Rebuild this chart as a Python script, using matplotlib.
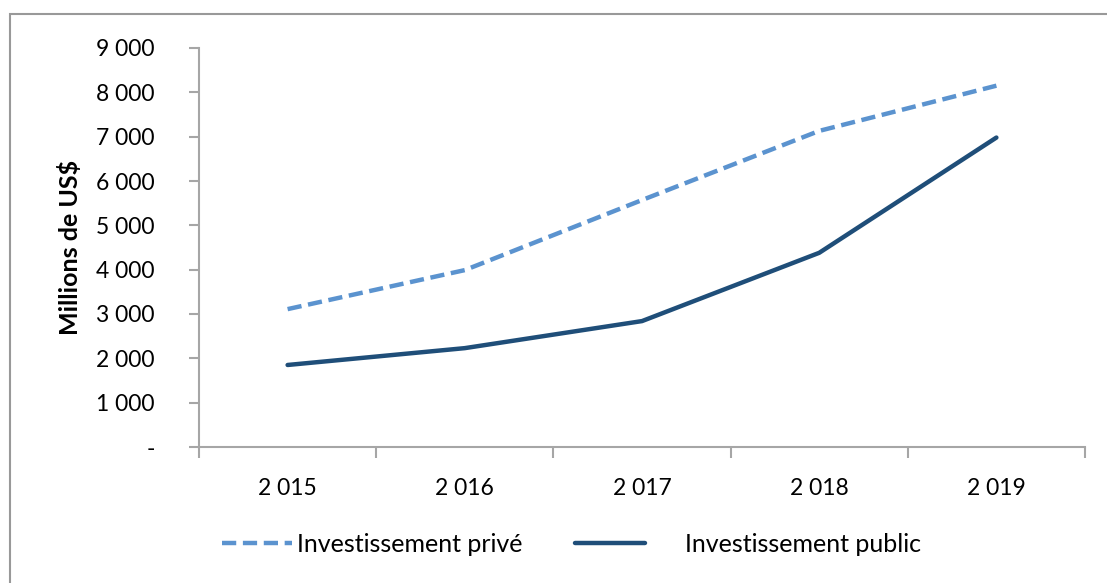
import matplotlib.pyplot as plt
from matplotlib.patches import Rectangle

years = ["2 015", "2 016", "2 017", "2 018", "2 019"]
prive = [3110, 3990, 5570, 7130, 8150]
public = [1850, 2230, 2840, 4380, 6980]
yticks = [0, 1000, 2000, 3000, 4000, 5000, 6000, 7000, 8000, 9000]

plt.rcParams['font.family'] = ['Lato', 'DejaVu Sans']
fs = 16.5
fs_leg = 18

fig = plt.figure(figsize=(11.07, 5.83), dpi=100)
ax = fig.add_axes([199 / 1107, 1 - 447 / 583, (1085 - 199) / 1107, (447 - 48) / 583])

x = list(range(len(years)))
l1, = ax.plot(x, prive, color="#5B93CF", lw=3.2, dashes=(3.2, 1.5), solid_capstyle="round",
              dash_capstyle="butt", label="Investissement privé")
l2, = ax.plot(x, public, color="#1F4E79", lw=3.2, solid_capstyle="round",
              label="Investissement public")

ax.set_xlim(-0.5, len(years) - 0.5)
ax.set_ylim(0, 9000)
ax.set_yticks(yticks)
ax.set_yticklabels(["-" if v == 0 else f"{v // 1000} 000" for v in yticks], fontsize=fs)
ax.set_xticks([i - 0.5 for i in range(len(years) + 1)])
ax.set_xticklabels([])
ax.set_xticks(x, minor=True)
ax.set_xticklabels(years, minor=True, fontsize=fs)
ax.tick_params(axis="x", which="minor", length=0, pad=22)
ax.tick_params(axis="x", which="major", length=8, color="#A6A6A6", width=1.5)
ax.tick_params(axis="y", length=7, color="#A6A6A6", width=1.5, pad=25)

for s in ["top", "right"]:
    ax.spines[s].set_visible(False)
for s in ["left", "bottom"]:
    ax.spines[s].set_color("#A6A6A6")
    ax.spines[s].set_linewidth(1.5)

ax.set_ylabel("Millions de US$", fontsize=18, fontweight="bold", labelpad=10)

leg_y = 1 - 544 / 583
fig.legend(handles=[l1], loc="center left", bbox_to_anchor=(222 / 1107, leg_y), frameon=False,
           fontsize=fs_leg, handlelength=2.8, handletextpad=0.2, borderpad=0, borderaxespad=0)
fig.legend(handles=[l2], loc="center left", bbox_to_anchor=(575 / 1107, leg_y), frameon=False,
           fontsize=fs_leg, handlelength=2.8, handletextpad=1.6, borderpad=0, borderaxespad=0)

fig.patches.append(Rectangle((10 / 1107, -0.05), 1.2, 1 - 14 / 583 + 0.05,
                             transform=fig.transFigure, fill=False,
                             edgecolor="#999999", lw=1.5))

fig.savefig("out.png", dpi=100)
